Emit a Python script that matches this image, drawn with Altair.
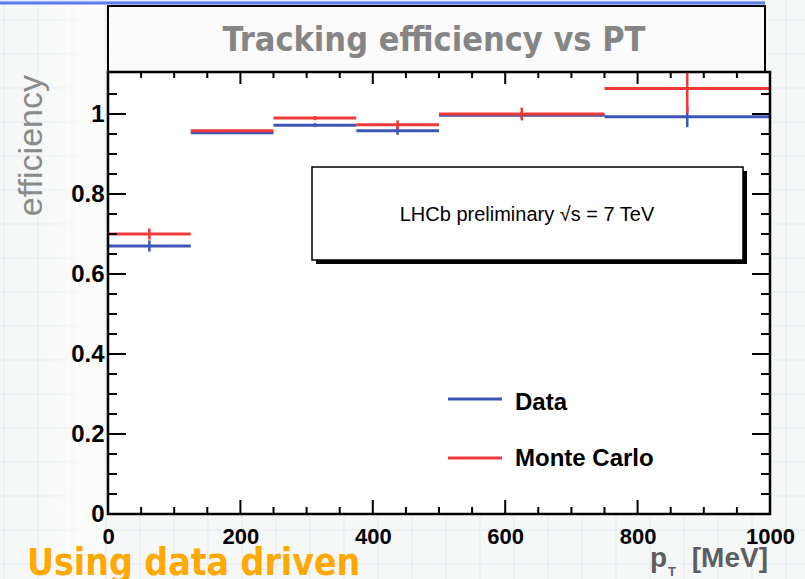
import altair as alt
import pandas as pd

# Plot area size (pixels) and placement inside the 805x579 page
W, H = 662, 442
PAD_L, PAD_T = 108, 72

# pT bins [MeV]
bin_lo = [0, 125, 250, 375, 500, 750]
bin_hi = [125, 250, 375, 500, 750, 1000]

# Tracking efficiency per bin
data_eff = [0.670, 0.953, 0.972, 0.958, 0.997, 0.993]
data_err = [0.014, 0.003, 0.005, 0.010, 0.008, 0.026]
mc_eff = [0.700, 0.958, 0.990, 0.973, 1.000, 1.064]
mc_err = [0.014, 0.003, 0.005, 0.011, 0.016, 0.062]

# Axis ticks
x_major = [0, 200, 400, 600, 800, 1000]
x_minor = [50, 100, 150, 250, 300, 350, 450, 500, 550, 650, 700, 750, 850, 900, 950]
y_major = [0, 0.2, 0.4, 0.6, 0.8, 1.0]
y_minor = [0.05, 0.1, 0.15, 0.25, 0.3, 0.35, 0.45, 0.5, 0.55, 0.65, 0.7, 0.75,
           0.85, 0.9, 0.95, 1.05]

RED = "#f03a3a"
BLUE = "#3d55b5"
LABEL_FONT = "Liberation Sans"
HAND_FONT = "Liberation Sans Narrow, DejaVu Sans Condensed, sans-serif"

xs = alt.Scale(domain=[0, 1000], nice=False, zero=False)
ys = alt.Scale(domain=[0, 1.105], nice=False, zero=False)

# One shared axis definition per direction, used by every layer
x_axis = alt.Axis(values=x_major, ticks=False, domain=False, grid=False, title=None,
                  labelFont=LABEL_FONT, labelFontSize=22, labelFontWeight="bold",
                  labelColor="black", labelPadding=12, labelFlush=False, format="d",
                  zindex=2)
y_axis = alt.Axis(values=y_major, ticks=False, domain=False, grid=False, title=None,
                  labelFont=LABEL_FONT, labelFontSize=24, labelFontWeight="bold",
                  labelColor="black", labelPadding=4, format="~g", labelFlush=False,
                  zindex=2)

one = pd.DataFrame({"k": [0]})


def X(field):
    return alt.X(field, scale=xs, axis=x_axis)


def Y(field):
    return alt.Y(field, scale=ys, axis=y_axis)


def series_frame(name, eff, err):
    return pd.DataFrame({
        "series": name,
        "lo": bin_lo,
        "hi": bin_hi,
        "mid": [(a + b) / 2 for a, b in zip(bin_lo, bin_hi)],
        "eff": eff,
        "down": [e - d for e, d in zip(eff, err)],
        "up": [e + d for e, d in zip(eff, err)],
    })


def hist_layers(df, color):
    horiz = alt.Chart(df).mark_rule(color=color, strokeWidth=3, clip=True).encode(
        x=X("lo:Q"), x2="hi:Q", y=Y("eff:Q"),
    )
    vert = alt.Chart(df).mark_rule(color=color, strokeWidth=2.5, clip=True).encode(
        x=X("mid:Q"), y=Y("down:Q"), y2="up:Q",
    )
    return [horiz, vert]


def deco_rule(x1, x2, y1, y2, color, width):
    return alt.Chart(one).mark_rule(color=color, strokeWidth=width).encode(
        x=alt.value(x1), x2=alt.value(x2), y=alt.value(y1), y2=alt.value(y2)
    )


def deco_text(text, x, y, **kw):
    return alt.Chart(one).mark_text(text=text, **kw).encode(
        x=alt.value(x), y=alt.value(y)
    )


layers = []

# Faint squared-paper background
GRID = "#e1ebf1"
for gx in range(4, 805, 34):
    layers.append(deco_rule(gx - PAD_L, gx - PAD_L, -PAD_T, 579 - PAD_T, GRID, 1))
for gy in range(20, 579, 34):
    layers.append(deco_rule(-PAD_L, 805 - PAD_L, gy - PAD_T, gy - PAD_T, GRID, 1))

# Whitening towards the plot on the left margin
fade = alt.LinearGradient(
    gradient="linear",
    stops=[alt.GradientStop(color="rgba(252,252,250,0)", offset=0),
           alt.GradientStop(color="rgba(252,252,250,1)", offset=1)],
    x1=0, x2=1, y1=0, y2=0,
)
layers.append(alt.Chart(one).mark_rect(color=fade).encode(
    x=alt.value(30 - PAD_L), x2=alt.value(-4), y=alt.value(-PAD_T), y2=alt.value(579 - PAD_T)
))

# Slide header strip along the top
layers.append(alt.Chart(one).mark_rect(color="#e6e8fb").encode(
    x=alt.value(-PAD_L), x2=alt.value(657), y=alt.value(-PAD_T), y2=alt.value(-69)
))
layers.append(deco_rule(-PAD_L, 657, -69, -69, "#5b7be6", 3))

# Title box
layers.append(alt.Chart(one).mark_rect(fill="#fbfbfb", stroke="black", strokeWidth=2).encode(
    x=alt.value(0), x2=alt.value(657), y=alt.value(-66), y2=alt.value(0)
))
layers.append(deco_text("Tracking efficiency vs PT", 326, -21, font=HAND_FONT,
                        fontSize=34, fontWeight="bold", color="#858585",
                        align="center", baseline="alphabetic"))

# Plot area
layers.append(alt.Chart(one).mark_rect(fill="white").encode(
    x=alt.value(0), x2=alt.value(W), y=alt.value(0), y2=alt.value(H)
))

# Histograms: Data first, Monte Carlo on top
layers += hist_layers(series_frame("Data", data_eff, data_err), BLUE)
layers += hist_layers(series_frame("Monte Carlo", mc_eff, mc_err), RED)

# Inward ticks on all four sides; the shared axes carry the tick labels
xmaj = pd.DataFrame({"v": x_major})
xmin = pd.DataFrame({"v": x_minor})
ymaj = pd.DataFrame({"v": y_major})
ymin = pd.DataFrame({"v": y_minor})

layers.append(alt.Chart(xmaj).mark_rule(color="black", strokeWidth=2).encode(
    x=X("v:Q"), y=alt.value(H), y2=alt.value(H - 14)))
layers.append(alt.Chart(xmin).mark_rule(color="black", strokeWidth=2).encode(
    x=X("v:Q"), y=alt.value(H), y2=alt.value(H - 7)))
layers.append(alt.Chart(xmaj).mark_rule(color="black", strokeWidth=2).encode(
    x=X("v:Q"), y=alt.value(0), y2=alt.value(12)))
layers.append(alt.Chart(xmin).mark_rule(color="black", strokeWidth=2).encode(
    x=X("v:Q"), y=alt.value(0), y2=alt.value(6)))

layers.append(alt.Chart(ymaj).mark_rule(color="black", strokeWidth=2).encode(
    y=Y("v:Q"), x=alt.value(0), x2=alt.value(18)))
layers.append(alt.Chart(ymin).mark_rule(color="black", strokeWidth=2).encode(
    y=Y("v:Q"), x=alt.value(0), x2=alt.value(9)))
layers.append(alt.Chart(ymaj).mark_rule(color="black", strokeWidth=2).encode(
    y=Y("v:Q"), x=alt.value(W), x2=alt.value(W - 18)))
layers.append(alt.Chart(ymin).mark_rule(color="black", strokeWidth=2).encode(
    y=Y("v:Q"), x=alt.value(W), x2=alt.value(W - 9)))

# Frame
layers.append(alt.Chart(one).mark_rect(fillOpacity=0, stroke="black", strokeWidth=2.5).encode(
    x=alt.value(0), x2=alt.value(W), y=alt.value(0), y2=alt.value(H)
))

# Experiment label box with drop shadow
layers.append(alt.Chart(one).mark_rect(fill="black").encode(
    x=alt.value(208), x2=alt.value(639), y=alt.value(99), y2=alt.value(192)))
layers.append(alt.Chart(one).mark_rect(fill="white", stroke="black", strokeWidth=1.5).encode(
    x=alt.value(204), x2=alt.value(635), y=alt.value(95), y2=alt.value(188)))
layers.append(deco_text("LHCb preliminary \u221as = 7 TeV", 419, 143, font=LABEL_FONT,
                        fontSize=20, color="black", align="center", baseline="middle"))

# Legend
layers.append(deco_rule(340, 394, 327, 327, BLUE, 3))
layers.append(deco_rule(340, 394, 386, 386, RED, 3))
layers.append(deco_text("Data", 407, 331, font=LABEL_FONT, fontSize=24, fontWeight="bold",
                        color="black", align="left", baseline="middle"))
layers.append(deco_text("Monte Carlo", 407, 387, font=LABEL_FONT, fontSize=24,
                        fontWeight="bold", color="black", align="left", baseline="middle"))

# Axis titles
layers.append(deco_text("efficiency", -76, 3, font=LABEL_FONT, fontSize=34, color="#8a8a8a",
                        angle=270, align="right", baseline="middle"))
layers.append(deco_text("p", 542, 495, font=LABEL_FONT, fontSize=28, fontWeight="bold",
                        color="#5e5e5e", align="left", baseline="alphabetic"))
layers.append(deco_text("T", 560, 504, font=LABEL_FONT, fontSize=13, fontWeight="bold",
                        color="#5e5e5e", align="left", baseline="alphabetic"))
layers.append(deco_text("[MeV]", 660, 495, font=LABEL_FONT, fontSize=28, fontWeight="bold",
                        color="#5e5e5e", align="right", baseline="alphabetic"))

# Slide caption below the plot
layers.append(deco_text("Using data driven", 27 - PAD_L, 575 - PAD_T, font=HAND_FONT,
                        fontSize=37, fontWeight="bold", color="#ffa800",
                        align="left", baseline="alphabetic"))

chart = alt.layer(*layers).properties(
    width=W,
    height=H,
    background="#f6f8f8",
    padding={"left": PAD_L, "top": PAD_T, "right": 805 - PAD_L - W, "bottom": 579 - PAD_T - H},
    autosize=alt.AutoSizeParams(type="none"),
).configure_view(stroke=None, fill=None)

chart.save("out.html", embed_options={"renderer": "svg", "actions": False})
